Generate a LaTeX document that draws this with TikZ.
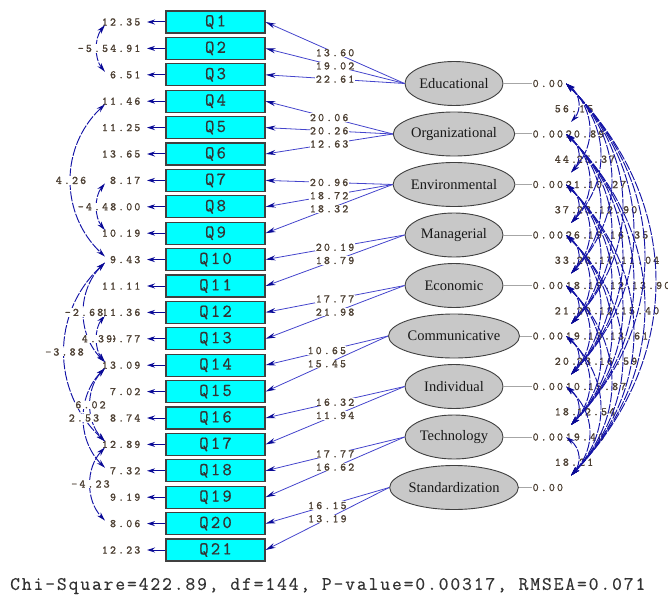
\documentclass[tikz,border=0pt]{standalone}
\usepackage{fontspec}
\setmainfont{Liberation Serif}
\newfontfamily\numfont[LetterSpace=19,FakeBold=1.3]{Latin Modern Mono}
\newfontfamily\qfont[LetterSpace=13,FakeBold=0.8]{Latin Modern Mono}
\newfontfamily\fitfont[LetterSpace=10,FakeBold=0.4]{Latin Modern Mono}
\usetikzlibrary{arrows.meta,shapes.geometric}
\definecolor{boxcyan}{HTML}{00FFFF}
\definecolor{latgray}{HTML}{C8C8C8}
\definecolor{pathblue}{HTML}{4444CC}
\definecolor{covblue}{HTML}{1414A6}
\definecolor{headblue}{HTML}{0A0A96}
\definecolor{numcol}{HTML}{4D4033}
\tikzset{
  obs/.style={draw=black!75, line width=1.1pt, fill=boxcyan, minimum width=99pt,
    minimum height=22pt, inner sep=0pt, font=\qfont\fontsize{18}{18}\selectfont, text=black!80},
  lat/.style={ellipse, draw=black!75, line width=0.9pt, fill=latgray, minimum width=98pt,
    minimum height=44pt, inner sep=0pt, font=\fontsize{14.5}{14.5}\selectfont, text=black!90},
  num/.style={font=\numfont\fontsize{11.5}{11.5}\selectfont, text=numcol, inner sep=0.5pt},
  lab/.style={num, fill=white},
  load/.style={draw=pathblue, line width=0.8pt, -{Stealth[length=10pt,width=5pt,color=headblue]}},
  errarr/.style={draw=headblue, line width=1pt, -{Stealth[length=8pt,width=5pt,color=headblue]}},
  cov/.style={draw=covblue, line width=0.95pt, dash pattern=on 10pt off 1.5pt,
    {Stealth[length=9pt,width=5pt,color=headblue]}-{Stealth[length=9pt,width=5pt,color=headblue]}},
  varline/.style={draw=black!35, line width=1pt}
}
\begin{document}
\begin{tikzpicture}[x=1pt,y=-1pt]
\useasboundingbox (0,0) rectangle (668,596);

% observed indicators with their error variances
\foreach \k/\ev in {1/12.35,2/4.91,3/6.51,4/11.46,5/11.25,6/13.65,7/8.17,8/8.00,9/10.19,10/9.43,
  11/11.11,12/11.36,13/9.77,14/13.09,15/7.02,16/8.74,17/12.89,18/7.32,19/9.19,20/8.06,21/12.23}{
  \pgfmathsetmacro\yy{22+26.4*(\k-1)}
  \node[obs] (Q\k) at (215.5,\yy) {Q\k};
  \node[num, anchor=east] (e\k) at (141,\yy) {\ev};
  \draw[errarr, shorten >=6pt] (Q\k.west) -- (e\k.east);
  \coordinate (cu\k) at (105,\yy-3);
  \coordinate (cd\k) at (105,\yy+3);
}

% latent factors
\foreach \i/\nm in {1/Educational,2/Organizational,3/Environmental,4/Managerial,5/Economic,
  6/Communicative,7/Individual,8/Technology,9/Standardization}{
  \pgfmathsetmacro\yy{83.5+50.5*(\i-1)}
  \node[lat] (L\i) at (454,\yy) {\nm};
  \node[num, anchor=west] (z\i) at (532,\yy) {0.00};
  \draw[varline] (L\i.east) -- (z\i.west);
  \coordinate (t\i) at (566,\yy);
  \coordinate (b\i) at (571,\yy-12);
}

% factor loadings
\foreach \i/\k/\v in {1/1/13.60,1/2/19.02,1/3/22.61,2/4/20.06,2/5/20.26,2/6/12.63,
  3/7/20.96,3/8/18.72,3/9/18.32,4/10/20.19,4/11/18.79,5/12/17.77,5/13/21.98,
  6/14/10.65,6/15/15.45,7/16/16.32,7/17/11.94,8/18/17.77,8/19/16.62,9/20/16.15,9/21/13.19}{
  \draw[load] (L\i.west) -- node[lab]{\v} (Q\k.east);
}

% error covariances
\foreach \a/\b/\v in {1/3/-5.54,4/10/4.26,7/9/-4.48,10/14/-2.68,12/14/4.39,10/17/-3.88,
  14/17/6.02,14/18/2.53,17/20/-4.23}{
  \pgfmathsetmacro\s{\b-\a}
  \pgfmathsetmacro\ya{22+26.4*(\a-1)+3}
  \pgfmathsetmacro\yb{22+26.4*(\b-1)-3}
  \pgfmathsetmacro\xc{(110-6.5*\s-0.25*105)/0.75}
  \pgfmathsetmacro\d{0.28*(\yb-\ya)}
  \draw[cov] (cd\a) .. controls (\xc,\ya+\d) and (\xc,\yb-\d) .. (cu\b);
}
\foreach \a/\b/\v in {1/3/-5.54,4/10/4.26,7/9/-4.48,10/14/-2.68,12/14/4.39,10/17/-3.88,
  14/17/6.02,14/18/2.53,17/20/-4.23}{
  \pgfmathsetmacro\xx{110-6.5*(\b-\a)}
  \pgfmathsetmacro\yy{22+13.2*(\a+\b-2)}
  \node[lab] (ec\a b\b) at (\xx,\yy) {\v};
}

% factor covariance values, then the arcs drawn over them
\foreach \i/\j/\v in {1/2/56.15,2/3/44.21,3/4/37.62,4/5/33.48,5/6/21.17,6/7/20.53,7/8/18.36,8/9/18.21,
  1/3/20.89,2/4/21.30,3/5/26.20,4/6/18.40,5/7/19.18,6/8/10.35,7/9/19.40,
  1/4/25.37,2/5/23.45,3/6/28.31,4/7/20.72,5/8/23.06,6/9/12.54,
  1/5/10.27,2/6/19.93,3/7/19.65,4/8/13.84,5/9/15.87,
  1/6/12.90,2/7/17.33,3/8/12.46,4/9/16.59,
  1/7/16.35,2/8/12.71,3/9/13.61,
  1/8/11.04,2/9/15.40,
  1/9/13.90}{
  \pgfmathsetmacro\xx{563+11*(\j-\i)}
  \pgfmathsetmacro\yy{83.5+25.25*(\i+\j-2)}
  \node[lab] (r\i x\j) at (\xx,\yy) {\v};
}
\foreach \i in {1,...,8}{
  \pgfmathtruncatemacro\ja{\i+1}
  \foreach \j in {\ja,...,9}{
    \pgfmathsetmacro\xc{(567+11*(\j-\i)-142.125)/0.75}
    \pgfmathsetmacro\ya{83.5+50.5*(\i-1)}
    \pgfmathsetmacro\yb{83.5+50.5*(\j-1)-12}
    \pgfmathsetmacro\d{0.3*(\yb-\ya)}
    \draw[cov] (t\i) .. controls (\xc,\ya+\d) and (\xc,\yb-\d) .. (b\j);
  }
}

% fit statistics
\node[anchor=west, inner sep=0pt, font=\fitfont\fontsize{19}{19}\selectfont, text=black!80] (fit)
  at (10,586) {Chi-Square=422.89, df=144, P-value=0.00317, RMSEA=0.071};
\end{tikzpicture}
\end{document}
